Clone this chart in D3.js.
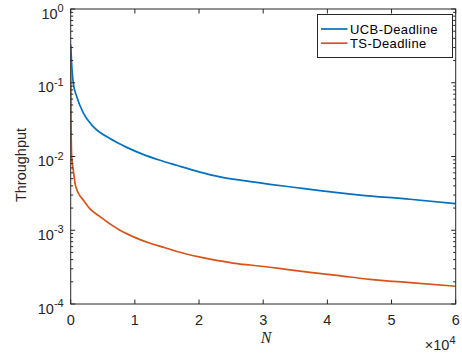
<!DOCTYPE html>
<html>
<head>
<meta charset="utf-8">
<script src="https://cdn.jsdelivr.net/npm/d3@7"></script>
<style>
  html, body { margin: 0; padding: 0; background: #fff; }
  svg { display: block; font-family: "Liberation Sans", Arial, Helvetica, sans-serif; }
</style>
</head>
<body>
<svg id="chart" width="462" height="353"></svg>
<script>
// Throughput versus number of rounds N for the two deadline-aware policies
const ucbN = [0, 150, 405, 935, 1960, 3520, 6120, 8730, 11270, 13920, 16520, 20000, 23270, 27000, 31060, 35000, 38850, 45080, 52880, 60000];
const ucbThroughput = [0.33, 0.18, 0.099, 0.065, 0.039, 0.0254, 0.0175, 0.0133, 0.0107, 0.0089, 0.0076, 0.0062, 0.0053, 0.0047, 0.0042, 0.0038, 0.00344, 0.0030, 0.00263, 0.00229];

const tsN = [0, 50, 155, 400, 670, 1185, 1960, 3010, 4570, 6125, 7680, 9710, 12360, 14700, 17030, 21710, 24000, 26380, 28000, 31060, 34180, 37290, 41450, 46640, 52880, 60000];
const tsThroughput = [0.2, 0.031, 0.0099, 0.0066, 0.00437, 0.0032, 0.00257, 0.00195, 0.00153, 0.00122, 0.00100, 0.00082, 0.000665, 0.00058, 0.000504, 0.000407, 0.000375, 0.000348, 0.000338, 0.000315, 0.00029, 0.000269, 0.000245, 0.000216, 0.000195, 0.000174];

const seriesNames = ["UCB-Deadline", "TS-Deadline"];
const seriesColors = ["#0072BD", "#D95319"];

const xTickValues = [0, 10000, 20000, 30000, 40000, 50000, 60000];
const xTickLabels = ["0", "1", "2", "3", "4", "5", "6"];
const yTickExponents = [-4, -3, -2, -1, 0];

const svg = d3.select("#chart");
const axisColor = "#262626";

const plot = { left: 70.7, right: 455.7, top: 9, bottom: 304 };

const x = d3.scaleLinear().domain([0, 60000]).range([plot.left, plot.right]);
const y = d3.scaleLog().domain([1e-4, 1]).range([plot.bottom, plot.top]);

// white plotting area
svg.append("rect")
  .attr("x", plot.left).attr("y", plot.top)
  .attr("width", plot.right - plot.left).attr("height", plot.bottom - plot.top)
  .attr("fill", "#fff");

// data lines, clipped to the axes box
svg.append("clipPath").attr("id", "clip").append("rect")
  .attr("x", plot.left).attr("y", plot.top)
  .attr("width", plot.right - plot.left).attr("height", plot.bottom - plot.top);

const line = d3.line()
  .x(d => x(d[0]))
  .y(d => y(d[1]))
  .curve(d3.curveMonotoneX);

const series = [
  d3.zip(ucbN, ucbThroughput),
  d3.zip(tsN, tsThroughput)
];

const lines = svg.append("g").attr("clip-path", "url(#clip)");
series.forEach((s, i) => {
  lines.append("path")
    .datum(s)
    .attr("d", line)
    .attr("fill", "none")
    .attr("stroke", seriesColors[i])
    .attr("stroke-width", 1.7)
    .attr("stroke-linejoin", "round");
});

// minor tick positions on the log axis
const minorTicks = [];
for (let e = -4; e < 0; e++) {
  for (let m = 2; m <= 9; m++) minorTicks.push(m * Math.pow(10, e));
}

const majorLen = 4.5, minorLen = 2.5;
const axes = svg.append("g").attr("stroke", axisColor).attr("stroke-width", 1);

// box
axes.append("rect")
  .attr("x", plot.left).attr("y", plot.top)
  .attr("width", plot.right - plot.left).attr("height", plot.bottom - plot.top)
  .attr("fill", "none");

// x ticks (bottom and top, pointing inward)
xTickValues.forEach(v => {
  const px = x(v);
  axes.append("line").attr("x1", px).attr("x2", px)
    .attr("y1", plot.bottom).attr("y2", plot.bottom - majorLen);
  axes.append("line").attr("x1", px).attr("x2", px)
    .attr("y1", plot.top).attr("y2", plot.top + majorLen);
});

// y ticks (left and right, pointing inward)
yTickExponents.forEach(e => {
  const py = y(Math.pow(10, e));
  axes.append("line").attr("x1", plot.left).attr("x2", plot.left + majorLen)
    .attr("y1", py).attr("y2", py);
  axes.append("line").attr("x1", plot.right).attr("x2", plot.right - majorLen)
    .attr("y1", py).attr("y2", py);
});
minorTicks.forEach(v => {
  const py = y(v);
  axes.append("line").attr("x1", plot.left).attr("x2", plot.left + minorLen)
    .attr("y1", py).attr("y2", py);
  axes.append("line").attr("x1", plot.right).attr("x2", plot.right - minorLen)
    .attr("y1", py).attr("y2", py);
});

// x tick labels
const labels = svg.append("g").attr("fill", axisColor).attr("font-size", 14.5);
xTickValues.forEach((v, i) => {
  labels.append("text")
    .attr("x", x(v)).attr("y", 325)
    .attr("text-anchor", "middle")
    .text(xTickLabels[i]);
});

// y tick labels: 10 with superscript exponent
yTickExponents.forEach(e => {
  const t = labels.append("text")
    .attr("x", plot.left - 7).attr("y", y(Math.pow(10, e)) + 9.5)
    .attr("text-anchor", "end");
  t.append("tspan").text("10");
  t.append("tspan").attr("font-size", 11).attr("dy", -6.5).text(String(e));
});

// x scale multiplier
const mult = labels.append("text")
  .attr("x", 455.5).attr("y", 350)
  .attr("text-anchor", "end");
mult.append("tspan").text("\u00d710");
mult.append("tspan").attr("font-size", 11).attr("dy", -6.5).text("4");

// axis titles
svg.append("text")
  .attr("x", 266).attr("y", 343)
  .attr("text-anchor", "middle")
  .attr("font-family", "'Liberation Serif', 'Times New Roman', serif")
  .attr("font-style", "italic")
  .attr("font-size", 16)
  .attr("fill", axisColor)
  .text("N");

svg.append("text")
  .attr("transform", "translate(26,165) rotate(-90)")
  .attr("text-anchor", "middle")
  .attr("font-size", 14.5)
  .attr("fill", axisColor)
  .text("Throughput");

// legend
const legend = svg.append("g");
legend.append("rect")
  .attr("x", 317.5).attr("y", 14.5)
  .attr("width", 135).attr("height", 43)
  .attr("fill", "#fff")
  .attr("stroke", axisColor)
  .attr("stroke-width", 1);
seriesNames.forEach((name, i) => {
  const ly = 29 + i * 14.2;
  legend.append("line")
    .attr("x1", 321).attr("x2", 347.5)
    .attr("y1", ly).attr("y2", ly)
    .attr("stroke", seriesColors[i])
    .attr("stroke-width", 1.7);
  legend.append("text")
    .attr("x", 350).attr("y", ly + 4.7)
    .attr("font-size", 13)
    .attr("letter-spacing", 0.4)
    .attr("fill", "#000")
    .text(name);
});
</script>
</body>
</html>
